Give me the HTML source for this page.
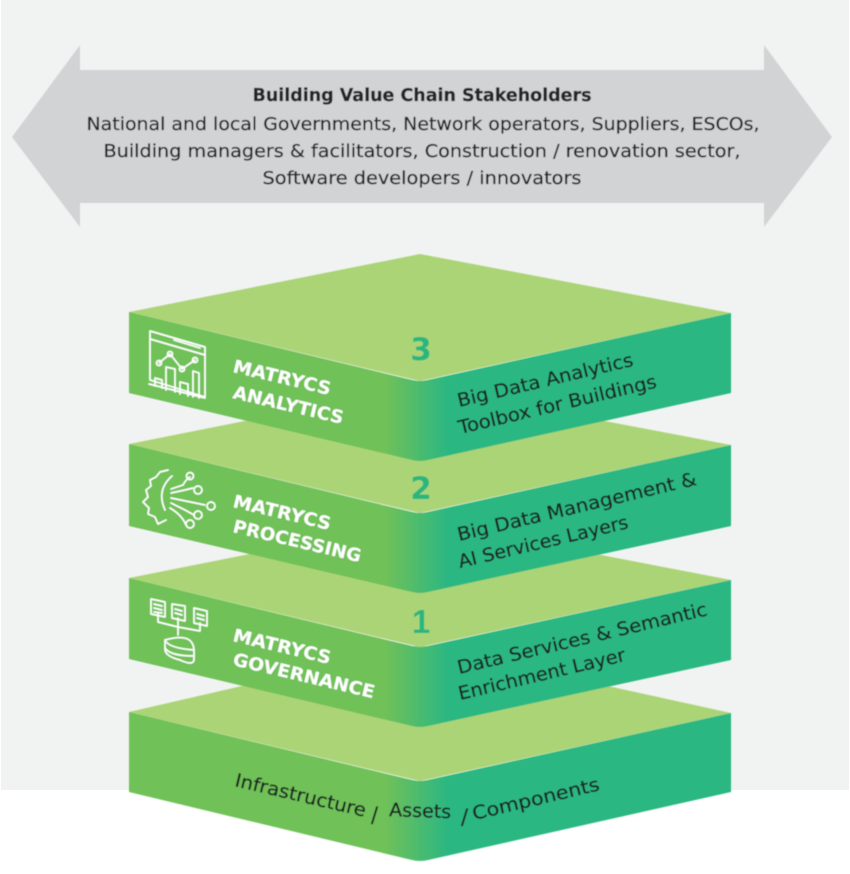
<!DOCTYPE html>
<html><head><meta charset="utf-8"><style>
html,body{margin:0;padding:0;background:#fff}
svg{display:block}
text{font-family:"DejaVu Sans","Liberation Sans",sans-serif}
.w{fill:#fff;font-weight:700;font-size:18px}
.d{fill:#1a2422;font-size:18.5px;stroke:#1a2422;stroke-width:.3}
.t{fill:#222528;font-size:18px;text-anchor:middle;stroke:#222528;stroke-width:.25}
.n{fill:#2cb67f;font-weight:700;font-size:31px;text-anchor:middle}
.i{fill:none;stroke:#fff;stroke-width:1.7;stroke-linecap:round;stroke-linejoin:round}
</style></head><body>
<svg width="850" height="874" viewBox="0 0 850 874" xmlns="http://www.w3.org/2000/svg">
<defs><linearGradient id="g" gradientUnits="userSpaceOnUse" x1="385" y1="0" x2="448" y2="0"><stop offset="0" stop-color="#70c158"/><stop offset="1" stop-color="#2bb782"/></linearGradient>
<filter id="b" x="-5%" y="-5%" width="110%" height="110%"><feGaussianBlur stdDeviation="0.5"/></filter></defs>
<rect width="850" height="874" fill="#fff"/>
<rect x="1" y="0" width="848" height="790" fill="#f1f3f3"/>
<g filter="url(#b)">
<polygon points="12,137 80,45 80,70 764,70 764,45 832,137 764,227 764,203 80,203 80,227" fill="#d1d3d4"/>
<text x="422" y="101" class="t" font-weight="700" textLength="339" lengthAdjust="spacingAndGlyphs">Building Value Chain Stakeholders</text>
<text x="423" y="130" class="t" textLength="673" lengthAdjust="spacingAndGlyphs">National and local Governments, Network operators, Suppliers, ESCOs,</text>
<text x="422" y="157" class="t" textLength="637" lengthAdjust="spacingAndGlyphs">Building managers &amp; facilitators, Construction / renovation sector,</text>
<text x="422" y="184" class="t" textLength="319" lengthAdjust="spacingAndGlyphs">Software developers / innovators</text>

<!-- bottom slab -->
<polygon points="129,712 420,645 731,713 420,781" fill="#abd476"/>
<path d="M129,712 L412,780 Q420,782 428,780 L731,713 L731,792 L428,860 Q420,862 412,860 L129,792 Z" fill="url(#g)"/>
<!-- slab 1 -->
<polygon points="129,578 420,520 731,580 420,647" fill="#abd476"/>
<path d="M129,578 L412,646 Q420,648 428,646 L731,580 L731,660 L428,726 Q420,728 412,726 L129,659 Z" fill="url(#g)"/>
<!-- slab 2 -->
<polygon points="129,444 420,386 731,445 420,513" fill="#abd476"/>
<path d="M129,444 L412,512 Q420,514 428,512 L731,445 L731,526 L428,592 Q420,594 412,592 L129,526 Z" fill="url(#g)"/>
<!-- slab 3 -->
<polygon points="129,312 420,254 731,313 420,381" fill="#abd476"/>
<path d="M129,312 L412,380 Q420,382 428,380 L731,313 L731,393 L428,460 Q420,462 412,460 L129,393 Z" fill="url(#g)"/>

<text x="421" y="360" class="n">3</text>
<text x="421" y="499" class="n">2</text>
<text x="421" y="633" class="n" style="font-family:'Liberation Sans',sans-serif;font-size:33px">1</text>

<text class="w" transform="translate(232,372) rotate(13.3)" textLength="100" lengthAdjust="spacingAndGlyphs">MATRYCS</text>
<text class="w" transform="translate(232,398) rotate(13.3)" textLength="113" lengthAdjust="spacingAndGlyphs">ANALYTICS</text>
<text class="w" transform="translate(232,507) rotate(13.3)" textLength="100" lengthAdjust="spacingAndGlyphs">MATRYCS</text>
<text class="w" transform="translate(232,532) rotate(13.3)" textLength="131" lengthAdjust="spacingAndGlyphs">PROCESSING</text>
<text class="w" transform="translate(232,641) rotate(13.3)" textLength="100" lengthAdjust="spacingAndGlyphs">MATRYCS</text>
<text class="w" transform="translate(232,665) rotate(13.3)" textLength="145" lengthAdjust="spacingAndGlyphs">GOVERNANCE</text>

<text class="d" transform="translate(459,407) rotate(-13.3)" textLength="180" lengthAdjust="spacingAndGlyphs">Big Data Analytics</text>
<text class="d" transform="translate(460,434) rotate(-13.3)" textLength="203" lengthAdjust="spacingAndGlyphs">Toolbox for Buildings</text>
<text class="d" transform="translate(459,541) rotate(-13.3)" textLength="245" lengthAdjust="spacingAndGlyphs">Big Data Management &amp;</text>
<text class="d" transform="translate(460,568) rotate(-13.3)" textLength="174" lengthAdjust="spacingAndGlyphs">AI Services Layers</text>
<text class="d" transform="translate(459,674) rotate(-13.3)" textLength="256" lengthAdjust="spacingAndGlyphs">Data Services &amp; Semantic</text>
<text class="d" transform="translate(460,700) rotate(-13.3)" textLength="171" lengthAdjust="spacingAndGlyphs">Enrichment Layer</text>

<text class="d" transform="translate(234,786) rotate(13.3)" textLength="134" lengthAdjust="spacingAndGlyphs">Infrastructure</text>
<text class="d" x="371" y="822" style="font-size:21px">/</text>
<text class="d" transform="translate(389,816) rotate(2)" textLength="62" lengthAdjust="spacingAndGlyphs">Assets</text>
<text class="d" x="461" y="824" style="font-size:21px">/</text>
<text class="d" transform="translate(474,820) rotate(-13.3)" textLength="130" lengthAdjust="spacingAndGlyphs">Components</text>

<!-- analytics icon -->
<g class="i">
<polygon points="150,331 205,347 205,397 150,380"/>
<line x1="150" y1="339" x2="205" y2="355"/>
<line x1="174" y1="340" x2="200" y2="348"/>
<line x1="149" y1="384" x2="205" y2="398"/>
<polyline points="159,363 170,354 182,369 195,360"/>
<circle cx="159" cy="363" r="2.5"/><circle cx="170" cy="354" r="2.5"/><circle cx="182" cy="369" r="2.5"/><circle cx="195" cy="360" r="2.5"/>
<polyline points="155,386 155,378 162,380 162,388"/>
<polyline points="166,390 166,367 175,369 175,392"/>
<polyline points="180,394 180,382 188,384 188,396"/>
<polyline points="193,397 193,371 199,373 199,398"/>
</g>
<!-- processing icon -->
<g class="i">
<path d="M168,470 L160,472 L156,477 L150,480 L151,486 L146,490 L148,497 L143,502 L149,508 L148,514 L155,517 L158,524 L166,520"/>
<path d="M172,476 Q156,490 165,510"/>
<path d="M171,489 L183,485 Q187,478 190,477"/><circle cx="190" cy="476" r="3.5"/>
<path d="M171,493 L185,490 L193,488"/><circle cx="198" cy="490" r="4"/>
<line x1="171" y1="498" x2="205" y2="505"/><circle cx="211" cy="506" r="4"/>
<path d="M171,503 L185,510 L194,515"/><circle cx="198" cy="515" r="4"/>
<path d="M170,508 Q182,515 186,525"/><circle cx="190" cy="524" r="4"/>
</g>
<!-- governance icon -->
<g class="i">
<polygon points="151,599 165,602 165,617 151,614"/>
<polygon points="172,604 185,606 185,621 172,618"/>
<polygon points="194,608 207,611 207,626 194,623"/>
<path d="M154,604 L162,606 M154,608 L162,610 M154,612 L162,613 M175,609 L182,611 M175,613 L182,615 M197,614 L204,616 M197,618 L204,620"/>
<path d="M158,614 L158,622 L178,627 M178,618 L178,635 M200,623 L200,631 L178,627"/>
<path d="M165,640 Q193,632 194,650 L194,660 Q193,666 180,660 Q164,656 165,648 Z"/>
<path d="M165,640 Q168,648 194,650 M165,648 Q170,656 194,656"/>
</g>
</g>
</svg>
</body></html>
